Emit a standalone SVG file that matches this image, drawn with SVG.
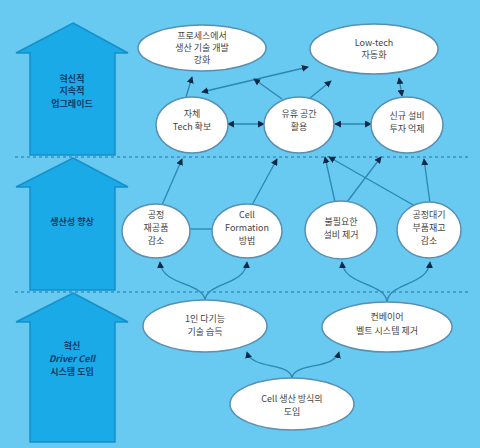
<svg xmlns="http://www.w3.org/2000/svg" width="480" height="448" viewBox="0 0 480 448">
<defs>
<marker id="ah" viewBox="0 0 8 8" refX="7" refY="4" markerWidth="7" markerHeight="7" orient="auto-start-reverse" markerUnits="userSpaceOnUse">
<path d="M0,0 L8,4 L0,8 z" fill="#0b2a48"/>
</marker>
<style>
.bg{fill:#68c9f1}
.big{fill:#1aaae7;stroke:#1590c9;stroke-width:1.5}
.bt{font-family:"Noto Sans CJK KR","Liberation Sans",sans-serif;font-size:9px;fill:#0c3d6c;text-anchor:middle;font-weight:bold}
.el{fill:#ffffff;stroke:#5a8fb2;stroke-width:1.5}
.t{font-family:"Noto Sans CJK KR","Liberation Sans",sans-serif;font-size:9px;fill:#444;text-anchor:middle}
.dash{stroke:#3b90c2;stroke-width:1.5;stroke-dasharray:3 3;fill:none}
.c{stroke:#2d86b2;stroke-width:1.3;fill:none}
.a{marker-end:url(#ah)}
.b{marker-start:url(#ah);marker-end:url(#ah)}
</style>
</defs>
<rect class="bg" x="0" y="0" width="480" height="448"/>
<g id="dividers">
<line class="dash" x1="15" y1="157" x2="470" y2="157"/>
<line class="dash" x1="15" y1="292" x2="470" y2="292"/>
</g>
<g id="arrow-top">
<polygon class="big" points="73,23 128,53 115,53 115,155 30,155 30,53 16,53"/>
<text class="bt" x="72" y="82">혁신적</text>
<text class="bt" x="72" y="94">지속적</text>
<text class="bt" x="72" y="107">업그레이드</text>
</g>
<g id="arrow-mid">
<polygon class="big" points="73,158 128,187 115,187 115,290 30,290 30,187 16,187"/>
<text class="bt" x="72" y="225">생산성 향상</text>
</g>
<g id="arrow-bot">
<polygon class="big" points="73,293 128,322 115,322 115,442 30,442 30,322 16,322"/>
<text class="bt" x="72" y="349">혁신</text>
<text class="bt" x="72" y="362" font-style="italic">Driver Cell</text>
<text class="bt" x="72" y="375">시스템 도입</text>
</g>
<g id="connectors">
<path class="c a" d="M292,378 C290,362 252,370 247,352"/>
<path class="c a" d="M292,378 C294,362 334,370 339,352"/>
<path class="c a" d="M205,300 C203,282 162,286 160,262"/>
<path class="c a" d="M205,300 C207,282 245,286 247,262"/>
<path class="c a" d="M387,302 C385,282 344,286 342,262"/>
<path class="c a" d="M387,302 C389,282 428,286 430,262"/>
<line class="c" x1="190" y1="229" x2="213" y2="229"/>
<line class="c a" x1="162" y1="205" x2="182" y2="159"/>
<line class="c a" x1="252" y1="205" x2="277" y2="159"/>
<line class="c a" x1="335" y1="202" x2="325" y2="157"/>
<line class="c a" x1="347" y1="202" x2="381" y2="157"/>
<line class="c a" x1="415" y1="206" x2="329" y2="157"/>
<line class="c a" x1="430" y1="203" x2="424" y2="159"/>
<line class="c b" x1="228" y1="124" x2="264" y2="124"/>
<line class="c b" x1="335" y1="124" x2="371" y2="124"/>
<line class="c a" x1="186" y1="97" x2="192" y2="77"/>
<line class="c b" x1="202" y1="92" x2="308" y2="67"/>
<line class="c a" x1="282" y1="99" x2="254" y2="79"/>
<line class="c a" x1="310" y1="98" x2="331" y2="81"/>
<line class="c b" x1="402" y1="96" x2="399" y2="78"/>
</g>
<g id="n-process">
<ellipse class="el" cx="202" cy="48" rx="64" ry="23"/>
<text class="t" x="202" y="39">프로세스에서</text>
<text class="t" x="202" y="51">생산 기술 개발</text>
<text class="t" x="202" y="63">강화</text>
</g>
<g id="n-lowtech">
<ellipse class="el" cx="374" cy="49" rx="64" ry="25"/>
<text class="t" x="374" y="46">Low-tech</text>
<text class="t" x="374" y="58">자동화</text>
</g>
<g id="n-tech">
<ellipse class="el" cx="192" cy="125" rx="36" ry="28"/>
<text class="t" x="192" y="117">자체</text>
<text class="t" x="192" y="130">Tech 확보</text>
</g>
<g id="n-space">
<ellipse class="el" cx="299" cy="125" rx="35" ry="28"/>
<text class="t" x="299" y="117">유휴 공간</text>
<text class="t" x="299" y="130">활용</text>
</g>
<g id="n-invest">
<ellipse class="el" cx="407" cy="125" rx="36" ry="28"/>
<text class="t" x="407" y="119">신규 설비</text>
<text class="t" x="407" y="132">투자 억제</text>
</g>
<g id="n-wip">
<ellipse class="el" cx="156" cy="231" rx="34" ry="27"/>
<text class="t" x="156" y="218">공정</text>
<text class="t" x="156" y="231">재공품</text>
<text class="t" x="156" y="244">감소</text>
</g>
<g id="n-cellform">
<ellipse class="el" cx="247" cy="231" rx="35" ry="27"/>
<text class="t" x="247" y="218">Cell</text>
<text class="t" x="247" y="231">Formation</text>
<text class="t" x="247" y="244">방법</text>
</g>
<g id="n-equip">
<ellipse class="el" cx="341" cy="230" rx="36" ry="29"/>
<text class="t" x="341" y="225">불필요한</text>
<text class="t" x="341" y="238">설비 제거</text>
</g>
<g id="n-stock">
<ellipse class="el" cx="429" cy="230" rx="32" ry="28"/>
<text class="t" x="429" y="218">공정대기</text>
<text class="t" x="429" y="231">부품재고</text>
<text class="t" x="429" y="244">감소</text>
</g>
<g id="n-multi">
<ellipse class="el" cx="205" cy="326" rx="62" ry="26"/>
<text class="t" x="205" y="322">1인 다기능</text>
<text class="t" x="205" y="335">기술 습득</text>
</g>
<g id="n-conveyor">
<ellipse class="el" cx="387" cy="327" rx="65" ry="25"/>
<text class="t" x="387" y="320">컨베이어</text>
<text class="t" x="387" y="334">벨트 시스템 제거</text>
</g>
<g id="n-cell">
<ellipse class="el" cx="292" cy="404" rx="62" ry="26"/>
<text class="t" x="292" y="402">Cell 생산 방식의</text>
<text class="t" x="292" y="415">도입</text>
</g>
</svg>
